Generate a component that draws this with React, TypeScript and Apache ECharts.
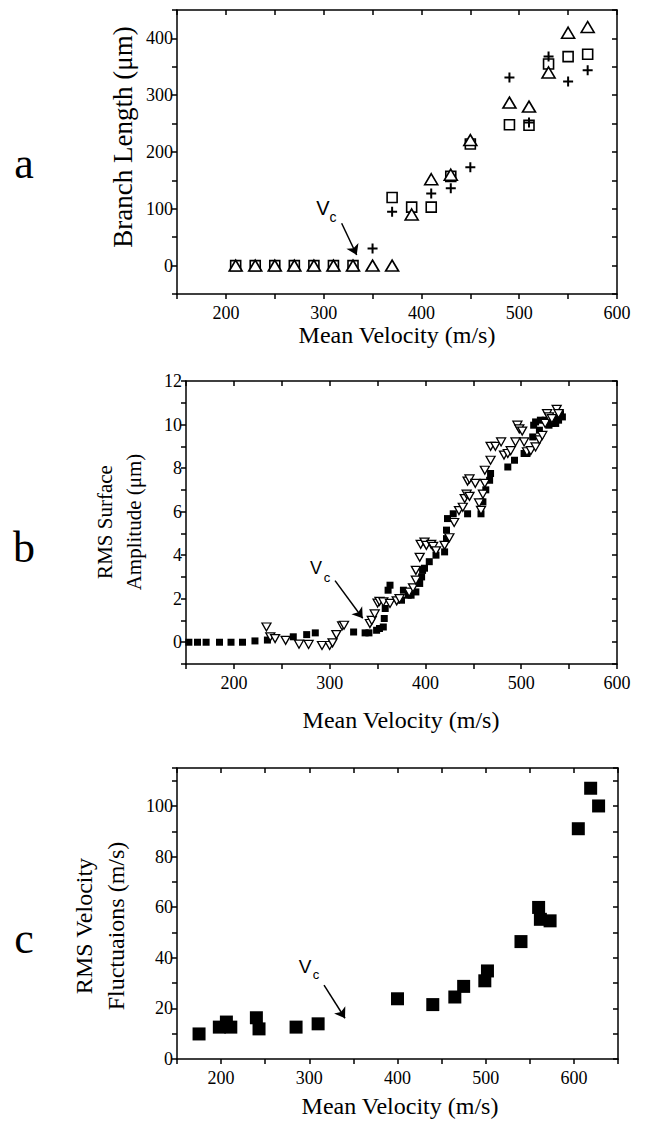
import React, { useEffect, useRef } from "react";
import * as echarts from "echarts";

// ---------- Panel a: Branch Length vs Mean Velocity ----------
const aSquares: [number, number][] = [
  [210, 0], [230, 0], [250, 0], [270, 0], [290, 0], [310, 0], [330, 0],
  [370, 120], [390, 103], [410, 103], [430, 157], [450, 214],
  [490, 248], [510, 247], [530, 355], [550, 368], [570, 372],
];
const aTriangles: [number, number][] = [
  [210, 0], [230, 0], [250, 0], [270, 0], [290, 0], [310, 0], [330, 0],
  [350, 0], [370, 0], [390, 90], [410, 152], [430, 160], [450, 221],
  [490, 287], [510, 280], [530, 340], [550, 410], [570, 420],
];
const aPlus: [number, number][] = [
  [350, 30], [370, 95], [410, 127], [430, 136], [450, 173],
  [490, 331], [510, 252], [530, 368], [550, 324], [570, 344],
];

// ---------- Panel b: RMS Surface Amplitude ----------
const bSquares: [number, number][] = [
  [153, 0], [162, 0], [171, 0], [185, 0], [197, 0], [209, 0], [222, 0.06],
  [235, 0.1], [262, 0.25], [276, 0.35], [285, 0.43], [325, 0.47], [337, 0.43],
  [341, 0.43], [349, 0.55], [352, 0.63], [356, 0.7], [357, 1.09], [358, 1.55],
  [361, 2.39], [363, 2.62], [375, 1.93], [377, 2.39], [382, 2.16], [385, 2.16],
  [390, 2.31], [394, 2.7], [396, 3.0], [397, 3.3], [399, 3.4], [404, 3.7],
  [411, 4.0], [420, 4.15], [422, 4.76], [422, 5.15], [423, 5.68], [429, 5.9],
  [444, 5.9], [458, 5.9], [460, 6.45], [463, 7.0], [467, 7.44], [468, 7.75],
  [486, 8.05], [493, 8.36], [503, 8.67], [506, 8.67], [512, 9.43], [513, 9.97],
  [515, 10.12], [519, 9.74], [520, 10.2], [525, 10.2], [529, 9.97], [532, 10.05],
  [536, 10.05], [537, 10.27], [539, 10.2], [541, 10.5], [543, 10.35],
];
const bTriangles: [number, number][] = [
  [234, 0.7], [238, 0.25], [243, 0.17], [254, 0.09], [268, -0.09], [278, -0.1],
  [292, -0.15], [300, -0.15], [303, -0.03], [307, 0.35], [313, 0.75], [315, 0.78],
  [342, 0.86], [344, 1.0], [347, 1.3], [350, 1.8], [352, 1.88], [356, 1.85],
  [363, 1.78], [370, 1.9], [373, 2.0], [383, 2.3], [387, 2.5], [390, 2.85],
  [390, 3.3], [394, 3.9], [395, 4.5], [399, 4.6], [401, 4.45], [406, 4.5],
  [408, 4.4], [411, 4.2], [420, 4.45], [425, 4.8], [430, 5.5], [435, 6.05],
  [439, 6.2], [441, 6.6], [443, 6.8], [444, 7.4], [446, 7.5], [446, 6.7],
  [452, 7.3], [456, 6.4], [458, 6.06], [460, 6.8], [462, 7.3], [462, 7.9],
  [468, 8.36], [468, 9.0], [473, 9.0], [479, 9.2], [482, 8.6], [486, 8.67],
  [489, 8.8], [494, 9.2], [496, 9.97], [498, 9.8], [501, 9.7], [503, 9.2],
  [506, 8.75], [510, 8.8], [515, 8.97], [519, 9.3], [522, 9.5], [525, 10.05],
  [527, 10.5], [529, 10.35], [532, 10.27], [537, 10.7], [539, 10.5],
];

// ---------- Panel c: RMS Velocity Fluctuations ----------
const cSquares: [number, number][] = [
  [175, 9.9], [198, 12.6], [206, 14.6], [211, 12.6], [240, 16.3], [243, 11.9],
  [285, 12.6], [310, 13.9], [400, 23.8], [440, 21.5], [465, 24.5], [475, 28.7],
  [499, 30.9], [502, 34.8], [540, 46.4], [560, 59.9], [562, 55.2], [573, 54.6],
  [605, 91], [619, 107], [628, 100],
];

// Vc arrows in data coordinates: [start, end]
const aArrow: [number, number][] = [[318.4, 74.5], [333.8, 18.7]];
const bArrow: [number, number][] = [[305.6, 2.83], [334.5, 1.1]];
const cArrow: [number, number][] = [[316.7, 29.2], [340.5, 16.1]];

const SERIF = "'Liberation Serif', 'Times New Roman', serif";
const SANS = "'Liberation Sans', Arial, sans-serif";
const BLACK = "#000";

function xAxes(grid: number, min: number, max: number) {
  const line = { show: true, onZero: false, lineStyle: { color: BLACK, width: 1.5 } };
  return [
    {
      type: "value", gridIndex: grid, min, max, interval: 50, position: "bottom",
      axisLine: line,
      axisTick: { show: true, inside: false, length: 5, lineStyle: { color: BLACK, width: 1.5 } },
      axisLabel: {
        show: true, margin: 10, color: BLACK, fontFamily: SERIF, fontSize: 18,
        formatter: (v: number) => (v % 100 === 0 ? String(v) : ""),
      },
      splitLine: { show: false },
    },
    {
      type: "value", gridIndex: grid, min, max, interval: 50, position: "top",
      axisLine: line,
      axisTick: { show: true, inside: true, length: 5, lineStyle: { color: BLACK, width: 1.5 } },
      axisLabel: { show: false },
      splitLine: { show: false },
    },
  ];
}

function yAxes(grid: number, min: number, max: number, interval: number, labelEvery: number) {
  const line = { show: true, onZero: false, lineStyle: { color: BLACK, width: 1.5 } };
  return [
    {
      type: "value", gridIndex: grid, min, max, interval, position: "left",
      axisLine: line,
      axisTick: { show: true, inside: false, length: 5, lineStyle: { color: BLACK, width: 1.5 } },
      axisLabel: {
        show: true, margin: 4, color: BLACK, fontFamily: SERIF, fontSize: 18,
        formatter: (v: number) => (v >= 0 && Math.abs(v % labelEvery) < 1e-9 ? String(v) : ""),
      },
      splitLine: { show: false },
    },
    {
      type: "value", gridIndex: grid, min, max, interval, position: "right",
      axisLine: line,
      axisTick: { show: true, inside: true, length: 5, lineStyle: { color: BLACK, width: 1.5 } },
      axisLabel: { show: false },
      splitLine: { show: false },
    },
  ];
}

function arrow(pts: [number, number][]) {
  return {
    silent: true,
    symbol: ["none", "arrow"],
    symbolSize: 10,
    lineStyle: { color: BLACK, width: 1.5, type: "solid", opacity: 1 },
    itemStyle: { color: BLACK },
    label: { show: false },
    emphasis: { disabled: true },
    data: [[{ coord: pts[0], symbol: "none" }, { coord: pts[1], symbol: "arrow", symbolSize: 10 }]],
  };
}

function text(x: number, y: number, t: string, font: string, rotate = 0) {
  return {
    type: "text", x, y, rotation: rotate, silent: true,
    style: { text: t, font, fill: BLACK, align: "center", verticalAlign: "middle" },
  };
}

export default function App() {
  const ref = useRef<HTMLDivElement>(null);
  useEffect(() => {
    if (!ref.current) return;
    const chart = echarts.init(ref.current, null, { renderer: "svg" });
    const openStyle = { color: "#fff", borderColor: BLACK, borderWidth: 1.6, opacity: 1 };
    chart.setOption({
      animation: false,
      backgroundColor: "#fff",
      grid: [
        { left: 177, top: 10, width: 440, height: 284 },
        { left: 186, top: 381, width: 431, height: 283 },
        { left: 177, top: 768, width: 441, height: 291 },
      ],
      xAxis: [...xAxes(0, 150, 600), ...xAxes(1, 150, 600), ...xAxes(2, 150, 650)],
      yAxis: [...yAxes(0, -50, 450, 50, 100), ...yAxes(1, -1, 12, 1, 2), ...yAxes(2, 0, 115, 10, 20)],
      series: [
        {
          type: "scatter", xAxisIndex: 0, yAxisIndex: 0, data: aSquares,
          symbol: "rect", symbolSize: 10, itemStyle: openStyle,
          markLine: arrow(aArrow),
        },
        {
          type: "scatter", xAxisIndex: 0, yAxisIndex: 0, data: aTriangles,
          symbol: "triangle", symbolSize: [13, 11], itemStyle: openStyle,
        },
        {
          type: "scatter", xAxisIndex: 0, yAxisIndex: 0, data: aPlus,
          symbol: "path://M0,5L10,5M5,0L5,10", symbolSize: 10,
          itemStyle: { color: "none", borderColor: BLACK, borderWidth: 2, opacity: 1 },
        },
        {
          type: "scatter", xAxisIndex: 2, yAxisIndex: 2, data: bSquares,
          symbol: "rect", symbolSize: 7, itemStyle: { color: BLACK, opacity: 1 },
          markLine: arrow(bArrow),
        },
        {
          type: "scatter", xAxisIndex: 2, yAxisIndex: 2, data: bTriangles,
          symbol: "triangle", symbolRotate: 180, symbolSize: [9, 8],
          itemStyle: { color: "#fff", borderColor: BLACK, borderWidth: 1.3, opacity: 1 },
        },
        {
          type: "scatter", xAxisIndex: 4, yAxisIndex: 4, data: cSquares,
          symbol: "rect", symbolSize: 13, itemStyle: { color: BLACK, opacity: 1 },
          markLine: arrow(cArrow),
        },
      ],
      graphic: [
        // panel letters
        text(24, 163, "a", `44px ${SERIF}`),
        text(24, 547, "b", `44px ${SERIF}`),
        text(24, 938, "c", `44px ${SERIF}`),
        // panel a titles
        text(397, 335, "Mean Velocity (m/s)", `24px ${SERIF}`),
        text(123, 137, "Branch Length (μm)", `27px ${SERIF}`, Math.PI / 2),
        // panel b titles
        text(401, 720, "Mean Velocity (m/s)", `24px ${SERIF}`),
        text(105, 522, "RMS Surface", `21px ${SERIF}`, Math.PI / 2),
        text(134, 522, "Amplitude (μm)", `21px ${SERIF}`, Math.PI / 2),
        // panel c titles
        text(400, 1106, "Mean Velocity (m/s)", `24px ${SERIF}`),
        text(84, 926, "RMS Velocity", `24px ${SERIF}`, Math.PI / 2),
        text(116, 926, "Fluctuaions (m/s)", `24px ${SERIF}`, Math.PI / 2),
        // Vc labels
        text(323, 208, "V", `20px ${SANS}`),
        text(333, 217, "c", `14px ${SANS}`),
        text(316, 568, "V", `18px ${SANS}`),
        text(327, 577, "c", `13px ${SANS}`),
        text(305, 966, "V", `19px ${SANS}`),
        text(316, 974, "c", `13px ${SANS}`),
      ],
    });
    return () => chart.dispose();
  }, []);
  return (
    <div
      ref={ref}
      style={{ position: "absolute", left: 0, top: 0, width: 647, height: 1123, background: "#fff" }}
    />
  );
}
